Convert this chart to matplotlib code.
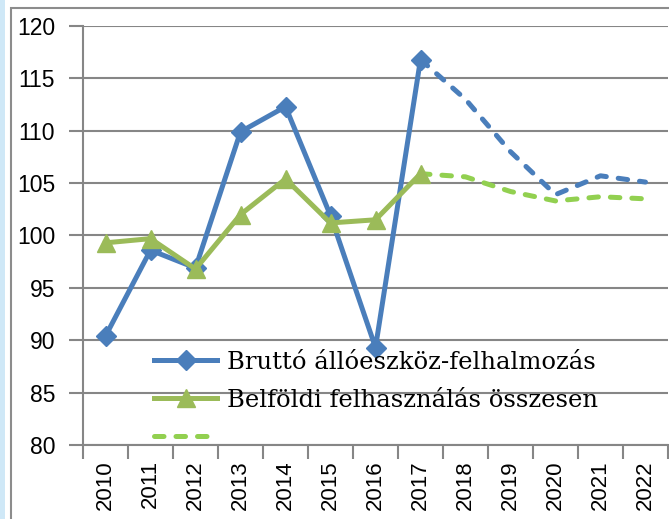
import matplotlib
matplotlib.use('Agg')
import matplotlib.pyplot as plt
import numpy as np
from matplotlib.patches import Rectangle

years = ['2010', '2011', '2012', '2013', '2014', '2015', '2016',
         '2017', '2018', '2019', '2020', '2021', '2022']

# tenyadat 2010-2017, elorejelzes 2017-2022
brutto_fact = [90.4, 98.6, 96.9, 109.9, 112.3, 101.9, 89.3, 116.8]
brutto_fcst = [116.8, 113.0, 108.0, 103.9, 105.7, 105.1]
belfoldi_fact = [99.3, 99.7, 96.8, 102.0, 105.4, 101.2, 101.5, 105.9]
belfoldi_fcst = [105.9, 105.6, 104.2, 103.3, 103.7, 103.5]

label_brutto = 'Bruttó állóeszköz-felhalmozás'
label_belfoldi = 'Belföldi felhasználás összesen'

BLUE = '#4a7ebb'
GREEN = '#9bbb59'
LGREEN = '#92d050'
GRID = '#868686'

fig = plt.figure(figsize=(6.69, 5.19), dpi=100)
ax = fig.add_axes([83/669, 74/519, 585/669, 419/519])

x = np.arange(len(years))
xf = x[7:]
dash = (0, (1.9, 2.4))

ax.plot(x[:8], brutto_fact, color=BLUE, lw=3.6, marker='D', ms=10,
        label=label_brutto, zorder=3)
ax.plot(x[:8], belfoldi_fact, color=GREEN, lw=3.6, marker='^', ms=13,
        label=label_belfoldi, zorder=4)
ax.plot(xf, brutto_fcst, color=BLUE, lw=3.6, ls=dash,
        dash_capstyle='round', zorder=3)
ax.plot(xf, belfoldi_fcst, color=LGREEN, lw=3.6, ls=dash,
        dash_capstyle='round', label=' ', zorder=3)

ax.set_xlim(-0.5, len(years) - 0.5)
ax.set_ylim(80, 120)
ax.set_yticks(np.arange(80, 121, 5))
ax.set_xticks(x)
ax.set_xticklabels(years, rotation=90, fontsize=16, family='Liberation Sans')
ax.set_xticks(np.arange(-0.5, len(years), 1), minor=True)
for lab in ax.get_yticklabels():
    lab.set_fontsize(16.5)
    lab.set_family('Liberation Sans')

ax.tick_params(axis='x', which='major', length=0, pad=11)
ax.tick_params(axis='x', which='minor', length=10, width=1.5, color=GRID)
ax.tick_params(axis='y', length=10, width=1.5, color=GRID, pad=10)

ax.yaxis.grid(True, color=GRID, lw=1.5)
ax.set_axisbelow(True)
for s in ['top', 'right']:
    ax.spines[s].set_visible(False)
for s in ['left', 'bottom']:
    ax.spines[s].set_color(GRID)
    ax.spines[s].set_linewidth(1.5)

leg = ax.legend(loc='lower left', bbox_to_anchor=(0.105, -0.035), frameon=False,
                prop={'family': 'DejaVu Serif', 'size': 17.5},
                handlelength=2.6, handletextpad=0.4, labelspacing=0.62,
                borderaxespad=0)

# ramka es bal oldali csik
fig.patches.append(Rectangle((11/669, -0.01), 1.0, 1 - 8/519 + 0.01,
                             transform=fig.transFigure, fill=False,
                             edgecolor='#8c8c8c', lw=1.5))
fig.patches.append(Rectangle((0, 0), 5/669, 1, transform=fig.transFigure,
                             facecolor='#cfe8f7', edgecolor='none'))

fig.savefig('out.png', dpi=100)
